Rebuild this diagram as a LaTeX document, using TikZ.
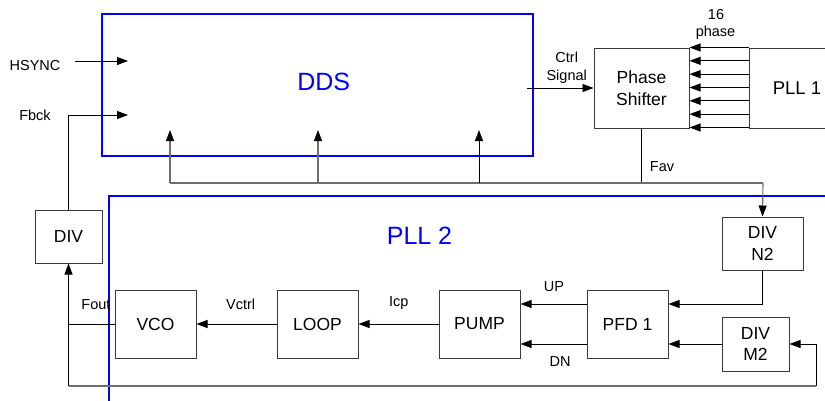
\documentclass[tikz,border=0pt]{standalone}
\usepackage{fontspec}
\setmainfont{Liberation Sans}
\usetikzlibrary{arrows.meta}
\definecolor{boxgray}{HTML}{3A3A3A}
\definecolor{busgray}{HTML}{6E6E6E}
\definecolor{ddsblue}{HTML}{0000FF}
\tikzset{
  blk/.style={draw=boxgray, line width=1pt, fill=none, inner sep=0pt, align=center,
    font=\fontsize{17.5}{21.7}\selectfont},
  bigblk/.style={draw=ddsblue, line width=1.4pt, inner sep=0pt},
  biglabel/.style={text=ddsblue, font=\fontsize{25}{25}\selectfont, anchor=base, inner sep=0pt},
  lbl/.style={font=\fontsize{14.5}{14.5}\selectfont, anchor=base, inner sep=0pt},
  conn/.style={draw=black, line width=0.9pt},
  bus/.style={draw=busgray, line width=1.1pt},
  arr/.style={-{Triangle[length=11pt,width=8pt,color=black]}},
}
\begin{document}
\begin{tikzpicture}[x=1pt,y=-1pt]
\useasboundingbox (0,0) rectangle (825,400);
\clip (0,0) rectangle (825,400);
\fill[white] (0,0) rectangle (825,400);

% big blue boxes
\node[bigblk, minimum width=431pt, minimum height=142pt] (dds) at (317.5,85) {};
\node[biglabel] (ddslbl) at (323.7,90) {DDS};
\node[bigblk, minimum width=760pt, minimum height=240pt] (pll2) at (489,316) {};
\node[biglabel] (pll2lbl) at (419.5,244.3) {PLL 2};

% blocks
\node[blk, minimum width=95pt, minimum height=80pt] (ps) at (641.5,88) {Phase\\Shifter};
\node[blk, minimum width=96pt, minimum height=80pt, font=\fontsize{18.5}{21.7}\selectfont] (pll1) at (797,88) {PLL 1};
\node[blk, minimum width=67pt, minimum height=53pt] (div) at (68.5,236.5) {DIV};
\node[blk, minimum width=81pt, minimum height=68pt] (vco) at (155.5,324) {VCO};
\node[blk, minimum width=81pt, minimum height=68pt] (loop) at (317.5,324) {LOOP};
\node[blk, minimum width=81pt, minimum height=68pt] (pump) at (479.5,324) {PUMP};
\node[blk, minimum width=81pt, minimum height=68pt] (pfd) at (627.5,324) {PFD 1};
\node[blk, minimum width=81pt, minimum height=53pt] (divn2) at (762.5,243.5) {DIV\\N2};
\node[blk, minimum width=67pt, minimum height=54pt] (divm2) at (755.5,344) {DIV\\M2};

% labels
\node[lbl] (hsync) at (35,70) {HSYNC};
\node[lbl] (fbck) at (35,120) {Fbck};
\node[lbl] (ctrl) at (566.7,62) {Ctrl};
\node[lbl] (signal) at (566.7,80) {Signal};
\node[lbl] (sixteen) at (716,19) {16};
\node[lbl] (phase) at (715.5,36.5) {phase};
\node[lbl] (fav) at (662,171) {Fav};
\node[lbl] (up) at (554,291.7) {UP};
\node[lbl] (dn) at (560,366) {DN};
\node[lbl] (icp) at (398.7,306.7) {Icp};
\node[lbl] (vctrl) at (240.7,309) {Vctrl};
\node[lbl] (fout) at (96,309) {Fout};

% coordinates
\coordinate (hsA) at (75,61);
\coordinate (hsB) at (128,61);
\coordinate (fbB) at (128,115);
\coordinate (ctA) at (527,88);
\coordinate (busL) at (170,183);
\coordinate (busR) at (763,183);
\coordinate (up1) at (170,130);
\coordinate (up2) at (318,130);
\coordinate (up3) at (479,130);
\coordinate (b2) at (318,183);
\coordinate (b3) at (479,183);
\coordinate (fbY) at (68.5,386);
\coordinate (fbX) at (816,386);
\coordinate (voL) at (68.5,324);

% connectors
\draw[conn,arr] (hsA) -- (hsB);
\draw[conn,arr] (div.north) |- (fbB);
\draw[conn,arr] (ctA) -- (ps.west);
\foreach \k in {0,...,6} {
  \draw[conn,arr] ([yshift={-\k*80/6}]pll1.north west) -- ([yshift={-\k*80/6}]ps.north east);
}
\draw[conn] (ps.south) -- (ps.south |- busR);
\draw[bus] (busL) -- (busR);
\draw[bus,arr] (busR) -- (divn2.north);
\draw[bus,arr] (busL) -- (up1);
\draw[bus,arr] (b2) -- (up2);
\draw[conn,arr] (b3) -- (up3);
\draw[conn,arr] (divn2.south) |- ([yshift=20pt]pfd.east);
\draw[conn,arr] (divm2.west) -- ([yshift=-20pt]pfd.east);
\draw[conn,arr] ([yshift=20pt]pfd.west) -- ([yshift=20pt]pump.east);
\draw[conn,arr] ([yshift=-20pt]pfd.west) -- ([yshift=-20pt]pump.east);
\draw[conn,arr] (pump.west) -- (loop.east);
\draw[conn,arr] (loop.west) -- (vco.east);
\draw[conn] (vco.west) -- (voL);
\draw[conn,arr] (fbY) -- (div.south);
\draw[bus] (fbY) -- (fbX);
\draw[conn,arr] (fbX) |- (divm2.east);
\end{tikzpicture}
\end{document}
